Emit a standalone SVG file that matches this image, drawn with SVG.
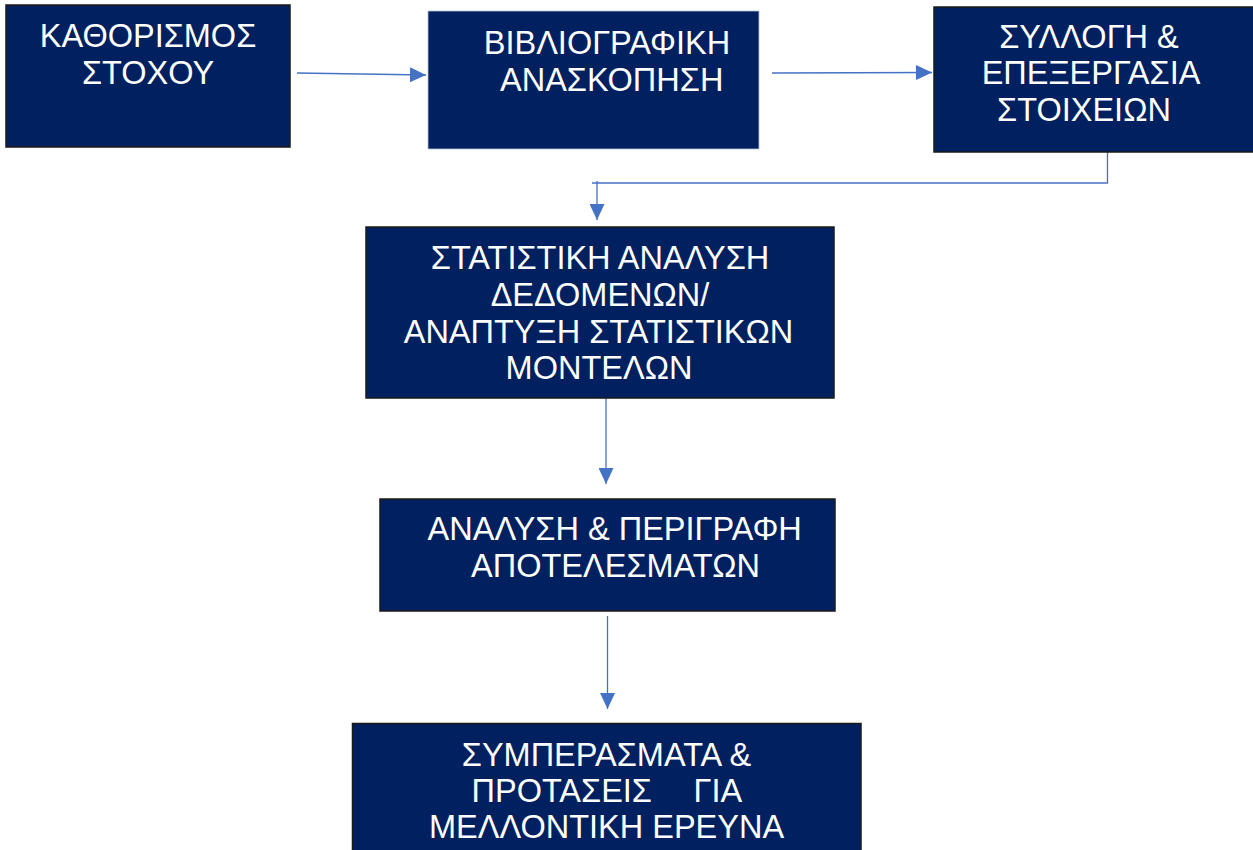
<svg xmlns="http://www.w3.org/2000/svg" width="1253" height="850" viewBox="0 0 1253 850">
  <style>
    .box { fill: #002060; stroke: #1a1a1a; stroke-width: 1.5; }
    .box2 { fill: #002060; stroke: #b8c2d6; stroke-width: 0.8; }
    .lbl { fill: #ffffff; font-family: "Liberation Sans", Arial, sans-serif; font-size: 32.5px; text-anchor: middle; }
    .conn { fill: none; stroke: #4472C4; stroke-width: 1.3; }
  </style>
  <defs>
    <marker id="arrow" markerUnits="userSpaceOnUse" markerWidth="16" markerHeight="15" refX="16" refY="7.5" orient="auto">
      <path d="M0,0 L16,7.5 L0,15 z" fill="#4472C4"/>
    </marker>
  </defs>
  <rect width="1253" height="850" fill="#ffffff"/>

  <g id="connectors">
    <line class="conn" x1="297" y1="73" x2="426" y2="75" marker-end="url(#arrow)"/>
    <line class="conn" x1="772" y1="73" x2="932" y2="72.5" marker-end="url(#arrow)"/>
    <path class="conn" d="M1107.5,152 V183 H592"/>
    <line class="conn" x1="597" y1="181" x2="597" y2="220" marker-end="url(#arrow)"/>
    <line class="conn" x1="606" y1="398" x2="606" y2="484" marker-end="url(#arrow)"/>
    <line class="conn" x1="607.5" y1="616" x2="607.5" y2="709" marker-end="url(#arrow)"/>
  </g>

  <g id="node-kathorismos">
    <rect class="box" x="6" y="5" width="284" height="142"/>
    <text class="lbl" x="148" y="47">ΚΑΘΟΡΙΣΜΟΣ</text>
    <text class="lbl" x="148" y="83.5">ΣΤΟΧΟΥ</text>
  </g>

  <g id="node-bibliografiki">
    <rect class="box2" x="428" y="11" width="331" height="138"/>
    <text class="lbl" x="607" y="53.5">ΒΙΒΛΙΟΓΡΑΦΙΚΗ</text>
    <text class="lbl" x="611.7" y="90.5">ΑΝΑΣΚΟΠΗΣΗ</text>
  </g>

  <g id="node-syllogi">
    <rect class="box" x="934" y="7" width="322" height="145"/>
    <text class="lbl" x="1089" y="47.5">ΣΥΛΛΟΓΗ &amp;</text>
    <text class="lbl" x="1091" y="84">ΕΠΕΞΕΡΓΑΣΙΑ</text>
    <text class="lbl" x="1084" y="120.5">ΣΤΟΙΧΕΙΩΝ</text>
  </g>

  <g id="node-statistiki">
    <rect class="box" x="366" y="227" width="468" height="171"/>
    <text class="lbl" x="600" y="269">ΣΤΑΤΙΣΤΙΚΗ ΑΝΑΛΥΣΗ</text>
    <text class="lbl" x="600" y="305.5">ΔΕΔΟΜΕΝΩΝ/</text>
    <text class="lbl" x="598.5" y="342.5">ΑΝΑΠΤΥΞΗ ΣΤΑΤΙΣΤΙΚΩΝ</text>
    <text class="lbl" x="599" y="379">ΜΟΝΤΕΛΩΝ</text>
  </g>

  <g id="node-analysi">
    <rect class="box" x="380" y="499" width="455" height="112"/>
    <text class="lbl" x="614.7" y="540">ΑΝΑΛΥΣΗ &amp; ΠΕΡΙΓΡΑΦΗ</text>
    <text class="lbl" x="615.5" y="577">ΑΠΟΤΕΛΕΣΜΑΤΩΝ</text>
  </g>

  <g id="node-symperasmata">
    <rect class="box" x="352.5" y="723.5" width="508.5" height="140"/>
    <text class="lbl" x="606.5" y="765.5">ΣΥΜΠΕΡΑΣΜΑΤΑ &amp;</text>
    <text class="lbl" style="text-anchor:start" y="802"><tspan x="471.5">ΠΡΟΤΑΣΕΙΣ</tspan><tspan x="693.5">ΓΙΑ</tspan></text>
    <text class="lbl" x="606.5" y="838">ΜΕΛΛΟΝΤΙΚΗ ΕΡΕΥΝΑ</text>
  </g>
</svg>
